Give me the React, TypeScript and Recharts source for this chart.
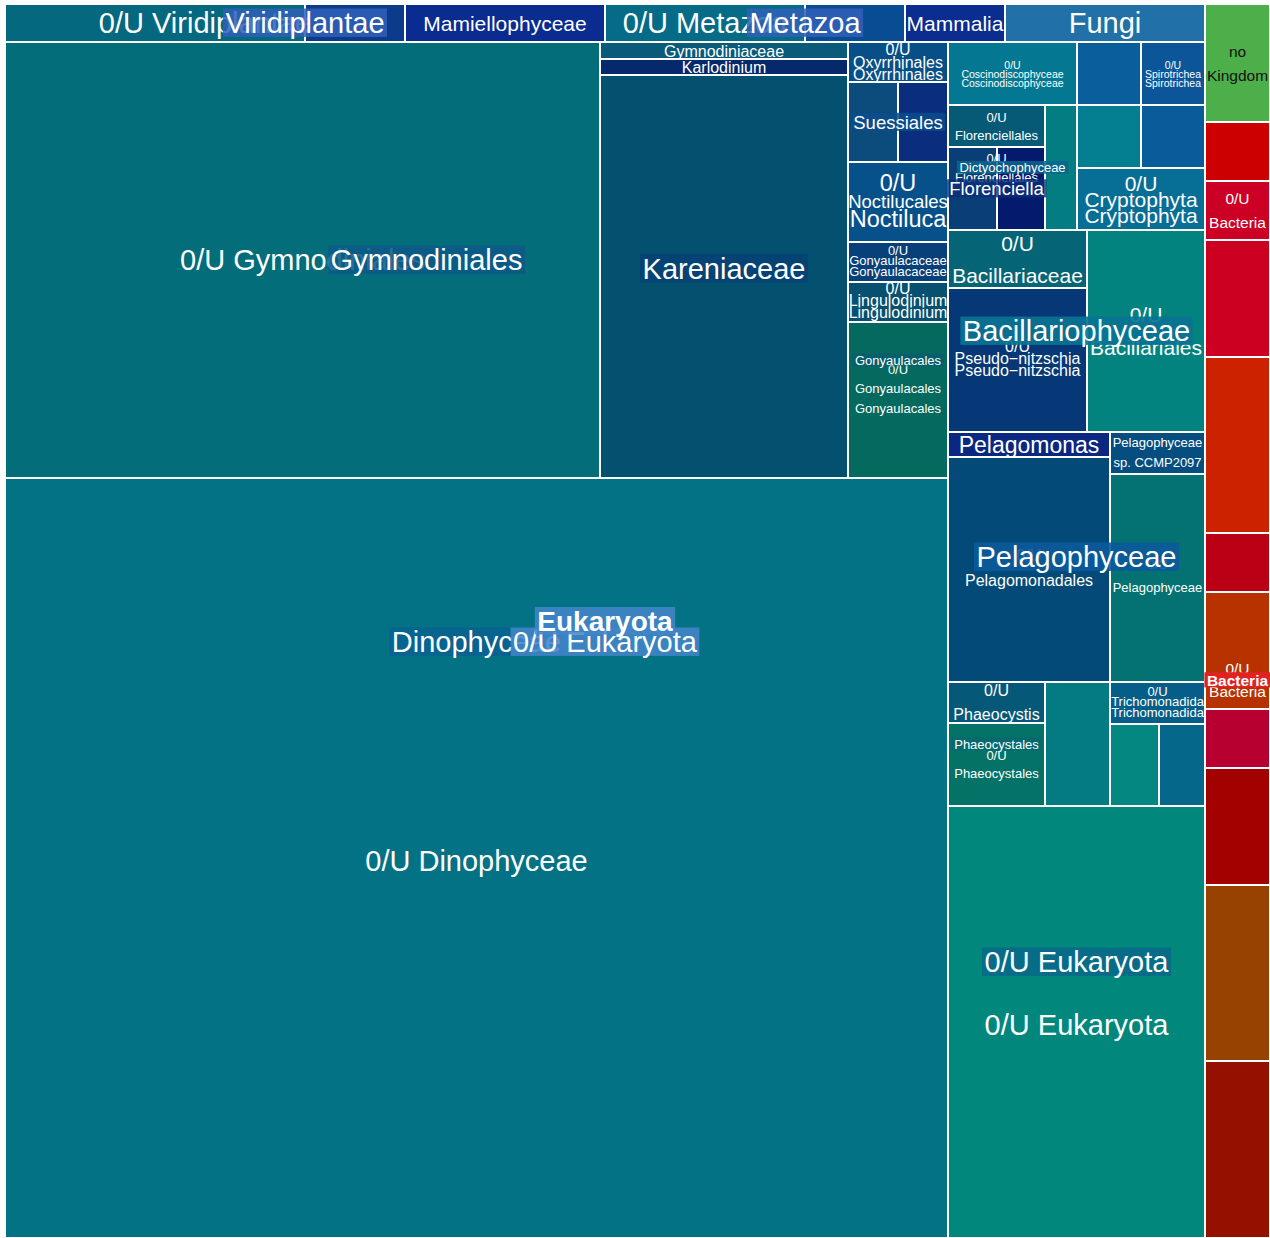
import React from "react";
import { Treemap } from "recharts";

const FONT = '"Liberation Sans", Arial, Helvetica, sans-serif';
const W = 1265;
const H = 1234;

type Cell = [string, number];

const bacteriaCells: Cell[] = [
  ["Bacteria 1", 20], ["0/U Bacteria", 20], ["Bacteria 3", 40], ["Bacteria 4", 60], ["Bacteria 5", 20],
  ["Bacteria 6", 40], ["Bacteria 7", 20], ["Bacteria 8", 40], ["Bacteria 9", 60], ["Bacteria 10", 60],
];
const noKingdomCells: Cell[] = [["no Kingdom", 40]];
const viridiplantae0UCells: Cell[] = [["0/U Viridiplantae a", 60], ["0/U Viridiplantae b", 20]];
const mamiellophyceaeCells: Cell[] = [["Mamiellophyceae", 40]];
const metazoaCells: Cell[] = [["0/U Metazoa", 40], ["Metazoa b", 20], ["Mammalia", 20]];
const fungiCells: Cell[] = [["Fungi", 40]];
const gymnodinialesCells: Cell[] = [["0/U Gymnodiniales", 1356], ["Gymnodiniaceae", 22]];
const kareniaceaeCells: Cell[] = [["Karlodinium", 21], ["0/U Kareniaceae", 523]];
const oxyrrhinalesCells: Cell[] = [["Oxyrrhinales", 21]];
const suessialesCells: Cell[] = [["Suessiales a", 21], ["Suessiales b", 21]];
const noctilucalesCells: Cell[] = [["Noctiluca", 42]];
const gonyaulacalesCells: Cell[] = [["Gonyaulacaceae", 21], ["Lingulodinium", 21], ["0/U Gonyaulacales", 82]];
const dinophyceae0UCells: Cell[] = [["0/U Dinophyceae", 3750]];
const topRowCells: Cell[] = [["Coscinodiscophyceae", 42], ["Eukaryota c1", 21], ["Spirotrichea", 21]];
const florenciellalesCells: Cell[] = [["0/U Florenciellales", 21]];
const florenciellaCells: Cell[] = [["Florenciella a", 21], ["Florenciella b", 21]];
const dictyochophyceae0UCells: Cell[] = [["0/U Dictyochophyceae", 21]];
const smallPairCells: Cell[] = [["Eukaryota c2", 21], ["Eukaryota c3", 21]];
const cryptophytaCells: Cell[] = [["Cryptophyta", 42]];
const bacillariaceaeCells: Cell[] = [["0/U Bacillariaceae", 42], ["Pseudo-nitzschia", 105]];
const bacillariales0UCells: Cell[] = [["0/U Bacillariales", 125]];
const pelagomonadalesCells: Cell[] = [["Pelagomonas", 21], ["0/U Pelagomonadales", 190]];
const pelagophyceaeOtherCells: Cell[] = [["Pelagophyceae sp. CCMP2097", 21], ["0/U Pelagophyceae", 103]];
const phaeocystalesCells: Cell[] = [["0/U Phaeocystis", 21], ["0/U Phaeocystales", 42]];
const eukLowCells: Cell[] = [["Eukaryota c4", 42]];
const trichomonadidaCells: Cell[] = [["Trichomonadida", 21]];
const lowPairCells: Cell[] = [["Eukaryota c5", 21], ["Eukaryota c6", 20]];
const eukaryota0UCells: Cell[] = [["0/U Eukaryota", 580]];

const cellColors: Record<string, string> = {
  "0/U Viridiplantae a": "#04697f", "0/U Viridiplantae b": "#0b3c8a", Mamiellophyceae: "#0a2b90",
  "0/U Metazoa": "#056b87", "Metazoa b": "#084c93", Mammalia: "#0a2d8f", Fungi: "#2170a8",
  "0/U Gymnodiniales": "#036d79", Gymnodiniaceae: "#0a5a7a", Karlodinium: "#06296b", "0/U Kareniaceae": "#03516e",
  Oxyrrhinales: "#084f88", "Suessiales a": "#0b4c7c", "Suessiales b": "#0a2d7e", Noctiluca: "#07518b",
  Gonyaulacaceae: "#08407a", Lingulodinium: "#07506f", "0/U Gonyaulacales": "#04695e",
  "0/U Dinophyceae": "#037285",
  Coscinodiscophyceae: "#047892", "Eukaryota c1": "#0a5e9c", Spirotrichea: "#0b5598",
  "0/U Florenciellales": "#065a76", "Florenciella a": "#0a3e76", "Florenciella b": "#041b6d",
  "0/U Dictyochophyceae": "#037c82", "Eukaryota c2": "#047f92", "Eukaryota c3": "#095b9a", Cryptophyta: "#076e95",
  "0/U Bacillariaceae": "#056577", "Pseudo-nitzschia": "#063777", "0/U Bacillariales": "#038380",
  Pelagomonas: "#0a2782", "0/U Pelagomonadales": "#044a79", "Pelagophyceae sp. CCMP2097": "#064d80",
  "0/U Pelagophyceae": "#047273", "0/U Phaeocystis": "#065879", "0/U Phaeocystales": "#047266",
  "Eukaryota c4": "#047b83", Trichomonadida: "#055e88", "Eukaryota c5": "#038780", "Eukaryota c6": "#05688b",
  "0/U Eukaryota": "#02877d",
  "no Kingdom": "#4daf4a",
  "Bacteria 1": "#cc0000", "0/U Bacteria": "#cc0024", "Bacteria 3": "#cc0020", "Bacteria 4": "#cc2200",
  "Bacteria 5": "#bb0015", "Bacteria 6": "#b83200", "Bacteria 7": "#b80030", "Bacteria 8": "#a30000",
  "Bacteria 9": "#974200", "Bacteria 10": "#941100",
};

type Line = string | [string, number];
type LabelSpec = {
  lines: Line[];
  size: number;
  gap?: number;
  dy?: number;
  tier?: number; // 5 = leaf labels, drawn first; 0 = kingdom, drawn last
  bold?: boolean;
  box?: string;
  boxAlpha?: number;
  color?: string;
};

const labelSpecs: Record<string, LabelSpec> = {
  Mamiellophyceae: { lines: ["Mamiellophyceae"], size: 21 },
  "0/U Metazoa": { lines: ["0/U Metazoa"], size: 29 },
  Mammalia: { lines: ["Mammalia"], size: 21 },
  Fungi: { lines: ["Fungi"], size: 29 },
  "0/U Gymnodiniales": { lines: ["0/U Gymnodiniales"], size: 29 },
  Gymnodiniaceae: { lines: ["Gymnodiniaceae"], size: 16, dy: 1 },
  Karlodinium: { lines: ["Karlodinium"], size: 16 },
  Oxyrrhinales: { lines: ["0/U", "Oxyrrhinales", "Oxyrrhinales"], size: 16, gap: 12.5 },
  Noctiluca: { lines: [["0/U", 23.5], ["Noctilucales", 18.5], ["Noctiluca", 23.5]], size: 23.5, gap: 18, dy: -1 },
  Gonyaulacaceae: { lines: ["0/U", "Gonyaulacaceae", "Gonyaulacaceae"], size: 13, gap: 10.5, dy: -1.5 },
  Lingulodinium: { lines: ["0/U", "Lingulodinium", "Lingulodinium"], size: 16, gap: 12, dy: -2 },
  "0/U Gonyaulacales": { lines: ["0/U", "Gonyaulacales", "Gonyaulacales"], size: 13, gap: 19.5, dy: -11.5 },
  "0/U Dinophyceae": { lines: ["0/U Dinophyceae"], size: 29, dy: 3 },
  Coscinodiscophyceae: { lines: ["0/U", "Coscinodiscophyceae", "Coscinodiscophyceae"], size: 10.5, gap: 9, dy: 0.5 },
  Spirotrichea: { lines: ["0/U", "Spirotrichea", "Spirotrichea"], size: 10.5, gap: 9, dy: 0.5 },
  "0/U Florenciellales": { lines: ["0/U", "Florenciellales"], size: 13, gap: 18 },
  Cryptophyta: { lines: ["0/U", "Cryptophyta", "Cryptophyta"], size: 21, gap: 16 },
  "0/U Bacillariaceae": { lines: ["0/U", "Bacillariaceae"], size: 21, gap: 32 },
  "Pseudo-nitzschia": { lines: ["0/U", "Pseudo\u2212nitzschia", "Pseudo\u2212nitzschia"], size: 16, gap: 12, dy: -1.5 },
  "0/U Bacillariales": { lines: ["0/U", "Bacillariales"], size: 21, gap: 33 },
  Pelagomonas: { lines: ["Pelagomonas"], size: 23 },
  "0/U Pelagomonadales": { lines: ["0/U", "Pelagomonadales"], size: 16, gap: 25, dy: -1.5 },
  "Pelagophyceae sp. CCMP2097": { lines: ["Pelagophyceae", "sp. CCMP2097"], size: 13, gap: 20, dy: -1 },
  "0/U Pelagophyceae": { lines: ["0/U", "Pelagophyceae"], size: 13, gap: 23, dy: -2 },
  "0/U Phaeocystis": { lines: ["0/U", "Phaeocystis"], size: 16, gap: 24 },
  "0/U Phaeocystales": { lines: ["0/U", "Phaeocystales"], size: 13, gap: 18 },
  Trichomonadida: { lines: ["0/U", "Trichomonadida", "Trichomonadida"], size: 13, gap: 10.5, dy: -1.5 },
  "0/U Eukaryota": { lines: ["0/U Eukaryota"], size: 29, dy: 3 },
  "no Kingdom": { lines: ["no", "Kingdom"], size: 15.5, gap: 24, color: "#111" },
  "0/U Bacteria": { lines: ["0/U", "Bacteria"], size: 15.5, gap: 24 },

  Florenciellales: { lines: ["0/U", "Florenciellales"], size: 13, gap: 19, tier: 4 },
  "0/U Viridiplantae": { lines: ["0/U Viridiplantae"], size: 29, tier: 3 },
  Gymnodiniales: { lines: ["Gymnodiniales"], size: 29, tier: 3, box: "#0b5a88", boxAlpha: 0.88 },
  Kareniaceae: { lines: ["Kareniaceae"], size: 29, tier: 3, box: "#0a2a80", boxAlpha: 0.35 },
  Suessiales: { lines: ["Suessiales"], size: 18.5, tier: 3, box: "#0c4d8c", boxAlpha: 0.85 },
  Gonyaulacales: { lines: ["Gonyaulacales"], size: 13, tier: 3, box: "#0a5580", boxAlpha: 0.45 },
  Florenciella: { lines: ["Florenciella"], size: 18.5, tier: 3, box: "#0a2f7a", boxAlpha: 0.8 },
  Phaeocystales: { lines: ["Phaeocystales"], size: 13, tier: 3, box: "#0a5a80", boxAlpha: 0.35 },
  Dinophyceae: { lines: ["Dinophyceae"], size: 29, tier: 2, dy: 2, box: "#0a5a98", boxAlpha: 0.6 },
  Dictyochophyceae: { lines: ["Dictyochophyceae"], size: 13, tier: 2, box: "#0a6590", boxAlpha: 0.85 },
  Bacillariophyceae: { lines: ["Bacillariophyceae"], size: 29, tier: 2, box: "#0a7393", boxAlpha: 0.92 },
  Pelagophyceae: { lines: ["Pelagophyceae"], size: 29, tier: 2, box: "#0b5a9a", boxAlpha: 0.9 },
  "0/U Eukaryota (class)": { lines: ["0/U Eukaryota"], size: 29, tier: 2, dy: 2, box: "#0a5a90", boxAlpha: 0.6 },
  Viridiplantae: { lines: ["Viridiplantae"], size: 29, tier: 1, box: "#3060b8", boxAlpha: 0.85 },
  Metazoa: { lines: ["Metazoa"], size: 29, tier: 1, box: "#3060b8", boxAlpha: 0.85 },
  "0/U Eukaryota (phylum)": { lines: ["0/U Eukaryota"], size: 29, tier: 1, dy: 2, box: "#4285c8", boxAlpha: 0.88 },
  "0/U Bacteria (phylum)": { lines: ["0/U", "Bacteria"], size: 15.5, gap: 23, tier: 1 },
  Eukaryota: { lines: ["Eukaryota"], size: 28, tier: 0, bold: true, box: "#4285c8", boxAlpha: 0.88 },
  Bacteria: { lines: ["Bacteria"], size: 15.5, tier: 0, bold: true, box: "#e02222", boxAlpha: 1 },
};

type Mode = "cut" | "fill" | "auto";
type TNode = { name: string; kind: "leaf" | "group" | "box" | "pad"; value?: number; children?: TNode[] };

let uid = 0;
const pad = (): TNode => ({ name: `pad ${uid++}`, kind: "pad", value: 0 });
const leaf = (c: Cell): TNode => ({ name: c[0], kind: "leaf", value: c[1] });
const leaves = (cs: Cell[]) => cs.map(leaf);

// Recharts squarifies along the short side of a box. A zero-sized spacer after the first child
// closes the row there ("cut": one strip per child along the long side); a spacer in front keeps
// all children in one row ("fill": they share the short side).
function arrange(mode: Mode, kids: TNode[]): TNode[] {
  if (kids.length < 2 || mode === "auto") return kids;
  if (mode === "fill") return [pad(), ...kids];
  const rest = kids.length === 2 ? kids[1] : box("cut", kids.slice(1));
  return [kids[0], pad(), rest];
}
function group(name: string, mode: Mode, kids: TNode[], kind: TNode["kind"] = "group"): TNode {
  return { name, kind, children: arrange(mode, kids) };
}
function box(mode: Mode, kids: TNode[]): TNode {
  return group(`box ${uid++}`, mode, kids, "box");
}

const dinophyceae = group("Dinophyceae", "cut", [
  box("cut", [
    group("Gymnodiniales", "cut", [
      leaf(gymnodinialesCells[0]),
      box("cut", [leaf(gymnodinialesCells[1]), group("Kareniaceae", "cut", leaves(kareniaceaeCells))]),
    ]),
    box("cut", [
      ...leaves(oxyrrhinalesCells),
      group("Suessiales", "cut", leaves(suessialesCells)),
      ...leaves(noctilucalesCells),
      group("Gonyaulacales", "cut", leaves(gonyaulacalesCells)),
    ]),
  ]),
  ...leaves(dinophyceae0UCells),
]);

const rightColumn = box("cut", [
  box("fill", [
    box("cut", leaves(topRowCells)),
    box("cut", [
      group("Dictyochophyceae", "cut", [
        group("Florenciellales", "cut", [
          ...leaves(florenciellalesCells),
          group("Florenciella", "cut", leaves(florenciellaCells)),
        ]),
        ...leaves(dictyochophyceae0UCells),
      ]),
      box("fill", [box("cut", leaves(smallPairCells)), ...leaves(cryptophytaCells)]),
    ]),
  ]),
  group("Bacillariophyceae", "cut", [
    group("Bacillariaceae", "cut", leaves(bacillariaceaeCells)),
    ...leaves(bacillariales0UCells),
  ]),
  group("Pelagophyceae", "cut", [box("cut", leaves(pelagomonadalesCells)), box("cut", leaves(pelagophyceaeOtherCells))]),
  group("0/U Eukaryota (class)", "cut", [
    box("cut", [
      group("Phaeocystales", "cut", leaves(phaeocystalesCells)),
      ...leaves(eukLowCells),
      box("cut", [...leaves(trichomonadidaCells), box("cut", leaves(lowPairCells))]),
    ]),
    ...leaves(eukaryota0UCells),
  ]),
]);

const eukaryota = group("Eukaryota", "cut", [
  box("cut", [
    group("Viridiplantae", "cut", [
      group("0/U Viridiplantae", "cut", leaves(viridiplantae0UCells)),
      ...leaves(mamiellophyceaeCells),
    ]),
    group("Metazoa", "cut", leaves(metazoaCells)),
    ...leaves(fungiCells),
  ]),
  group("0/U Eukaryota (phylum)", "auto", [dinophyceae, rightColumn]),
]);

const bacteria = group("Bacteria", "auto", [group("0/U Bacteria (phylum)", "auto", leaves(bacteriaCells))]);

const treeData = [eukaryota, ...leaves(noKingdomCells), bacteria];

const measureCtx = typeof document !== "undefined" ? document.createElement("canvas").getContext("2d") : null;
function textWidth(t: string, size: number, bold?: boolean) {
  if (!measureCtx) return t.length * size * 0.55;
  measureCtx.font = `${bold ? "bold " : ""}${size}px "Liberation Sans"`;
  return measureCtx.measureText(t).width;
}

const renderCell = (p: any) => {
  if (p.kind !== "leaf" || !(p.width > 0)) return <g />;
  return (
    <rect x={p.x} y={p.y} width={p.width} height={p.height} fill={cellColors[p.name] ?? "#037285"} stroke="#fff" strokeWidth={2} />
  );
};

const labelLayer = (tier: number) => (p: any) => {
  const spec = labelSpecs[p.name];
  if (!spec || p.kind === "pad" || p.kind === "box" || (spec.tier ?? 5) !== tier) return <g />;
  const cx = p.x + p.width / 2;
  const cy = p.y + p.height / 2 + (spec.dy ?? 0);
  const gap = spec.gap ?? spec.size * 1.15;
  const n = spec.lines.length;
  const color = spec.color ?? "#fff";
  const rows = spec.lines.map((ln, i) => {
    const [t, s] = typeof ln === "string" ? [ln, spec.size] : ln;
    return { t, s, y: cy + (i - (n - 1) / 2) * gap };
  });
  let boxEl = null;
  if (spec.box && n === 1) {
    const w = textWidth(rows[0].t, spec.size, spec.bold) + 5;
    boxEl = (
      <rect x={cx - w / 2} y={cy - spec.size * 0.5} width={w} height={spec.size * 0.98} fill={spec.box} fillOpacity={spec.boxAlpha ?? 0.7} />
    );
  }
  return (
    <g>
      {boxEl}
      {rows.map((r, i) => (
        <text key={i} x={cx} y={r.y} textAnchor="middle" dominantBaseline="central" fontFamily={FONT}
          fontSize={r.s} fontWeight={spec.bold ? 700 : 400} fill={color}>
          {r.t}
        </text>
      ))}
    </g>
  );
};

const layers: Array<"cells" | number> = ["cells", 5, 4, 3, 2, 1, 0];

export default function App() {
  return (
    <div style={{ position: "absolute", left: 5, top: 4, width: W, height: H }}>
      {layers.map((layer) => (
        <div key={String(layer)} style={{ position: "absolute", left: 0, top: 0 }}>
          <Treemap
            width={W}
            height={H}
            data={treeData}
            dataKey="value"
            isAnimationActive={false}
            content={layer === "cells" ? renderCell : labelLayer(layer as number)}
          />
        </div>
      ))}
    </div>
  );
}
